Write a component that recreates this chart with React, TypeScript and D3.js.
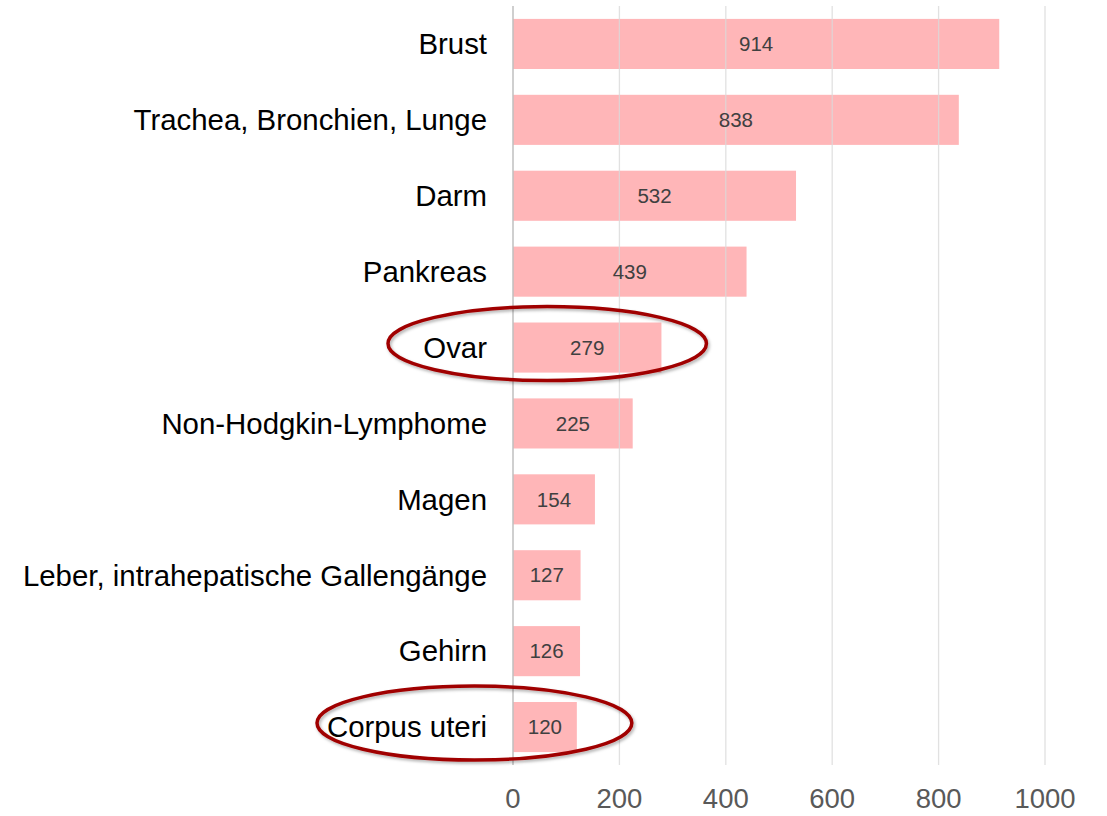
import React from 'react';
import * as d3 from 'd3';

const categories = [
  'Brust',
  'Trachea, Bronchien, Lunge',
  'Darm',
  'Pankreas',
  'Ovar',
  'Non-Hodgkin-Lymphome',
  'Magen',
  'Leber, intrahepatische Gallengänge',
  'Gehirn',
  'Corpus uteri',
];
const values = [914, 838, 532, 439, 279, 225, 154, 127, 126, 120];
const ticks = [0, 200, 400, 600, 800, 1000];
const highlighted = ['Ovar', 'Corpus uteri'];

function App() {
  const width = 1107, height = 816;
  const margin = { top: 6, right: 62, bottom: 51, left: 513 };

  const x = d3.scaleLinear()
    .domain([0, 1000])
    .range([margin.left, width - margin.right]);

  const y = d3.scaleBand()
    .domain(categories)
    .range([margin.top, height - margin.bottom])
    .paddingInner(0.34)
    .paddingOuter(0.17);

  const font = '"Liberation Sans", Arial, sans-serif';

  return (
    <svg width={width} height={height} style={{ position: 'absolute', left: 0, top: 0 }}>
      <defs>
        <filter id="shadow" x="-10%" y="-30%" width="120%" height="160%">
          <feDropShadow dx="1.5" dy="2" stdDeviation="1.5" floodColor="#000" floodOpacity="0.3" />
        </filter>
      </defs>
      <rect width={width} height={height} fill="#fff" />
      {categories.map((c, i) => (
        <rect key={c} x={x(0)} y={y(c)} width={x(values[i]) - x(0)} height={y.bandwidth()} fill="#ffb6b8" />
      ))}
      {ticks.slice(1).map(t => (
        <line key={t} x1={x(t)} x2={x(t)} y1={margin.top} y2={height - margin.bottom}
          stroke="#d9d9d9" strokeOpacity={0.8} strokeWidth={1.3} />
      ))}
      <line x1={x(0)} x2={x(0)} y1={margin.top} y2={height - margin.bottom} stroke="#bfbfbf" strokeWidth={1.5} />
      {ticks.map(t => (
        <text key={t} x={x(t)} y={808} textAnchor="middle" fontFamily={font} fontSize={27.5} fill="#595959">{t}</text>
      ))}
      {categories.map((c, i) => (
        <g key={c}>
          <text x={487} y={y(c) + y.bandwidth() / 2} dy="0.35em" textAnchor="end" fontFamily={font} fontSize={29.4} fill="#000">{c}</text>
          <text x={(x(0) + x(values[i])) / 2} y={y(c) + y.bandwidth() / 2} dy="0.35em" textAnchor="middle" fontFamily={font} fontSize={20.5} fill="#404040">{values[i]}</text>
        </g>
      ))}
      {highlighted.map(c => {
        const i = categories.indexOf(c);
        const cy = y(c) + y.bandwidth() / 2 - 4;
        const left = c === 'Ovar' ? 388 : 317;
        const right = c === 'Ovar' ? x(values[i]) + 45 : x(values[i]) + 55;
        return (
          <ellipse key={c} cx={(left + right) / 2} cy={cy} rx={(right - left) / 2} ry={37}
            fill="none" stroke="#a00000" strokeWidth={3.5} filter="url(#shadow)" />
        );
      })}
    </svg>
  );
}

export default App;
